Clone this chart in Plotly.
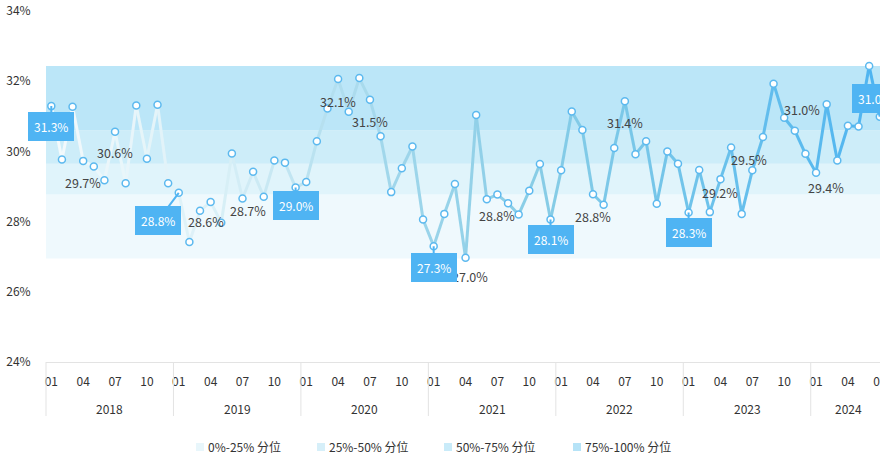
import plotly.graph_objects as go

# ---------------- data ----------------
years = [2018, 2019, 2020, 2021, 2022, 2023, 2024]
months = [f"{y}-{m:02d}" for y in years for m in range(1, 13)][:79]  # 2018-01 .. 2024-07

v2018 = [31.29, 29.77, 31.27, 29.73, 29.57, 29.18, 30.56, 29.09, 31.31, 29.79, 31.33, 29.09]
v2019 = [28.82, 27.42, 28.31, 28.56, 27.97, 29.94, 28.66, 29.42, 28.71, 29.74, 29.68, 28.97]
v2020 = [29.13, 30.29, 31.22, 32.06, 31.13, 32.09, 31.47, 30.43, 28.84, 29.52, 30.14, 28.06]
v2021 = [27.30, 28.22, 29.07, 26.97, 31.04, 28.64, 28.77, 28.52, 28.20, 28.88, 29.64, 28.06]
v2022 = [29.46, 31.14, 30.61, 28.78, 28.48, 30.10, 31.43, 29.92, 30.29, 28.51, 30.00, 29.65]
v2023 = [28.26, 29.47, 28.27, 29.21, 30.11, 28.22, 29.46, 30.41, 31.93, 30.96, 30.59, 29.93]
v2024 = [29.39, 31.34, 29.74, 30.73, 30.71, 32.43, 30.99]
values = v2018 + v2019 + v2020 + v2021 + v2022 + v2023 + v2024

# percentile bands (lower bound of 0% .. upper bound of 100%)
band_edges = [26.95, 28.77, 29.65, 30.60, 32.43]
band_names = ["0%-25% 分位", "25%-50% 分位", "50%-75% 分位", "75%-100% 分位"]

boxed_months = ["2018-01", "2019-01", "2019-12", "2021-01", "2021-12", "2023-01", "2024-07"]
plain_months = ["2018-04", "2018-07", "2019-04", "2019-07", "2020-04", "2020-07", "2021-04",
                "2021-07", "2022-04", "2022-07", "2023-04", "2023-07", "2023-10", "2024-01"]

month_ticks = ["01", "04", "07", "10"]
y_ticks = [24, 26, 28, 30, 32, 34]

# ---------------- styles ----------------
FONT = "Noto Sans CJK SC, Noto Sans, sans-serif"
band_colors = ["#eff9fd", "#e0f4fb", "#cdedf9", "#bbe6f8"]
legend_colors = ["#e8f6fb", "#d6eff9", "#c9ebf9", "#b6e3f7"]
box_color = "#4fb4f3"
marker_line = "#5cb9ef"

# label offsets (pixels): dx, dy(up positive)
plain_offsets = {
    "2018-04": (0, -22), "2018-07": (0, -21), "2019-04": (-5, -20), "2019-07": (5, -12),
    "2020-04": (0, -22), "2020-07": (0, -22), "2021-04": (4, -19), "2021-07": (0, -21),
    "2022-04": (0, -22), "2022-07": (0, -21), "2023-04": (0, -13), "2023-07": (-3, 11),
    "2023-10": (18, 8), "2024-01": (10, -15),
}
box_offsets = {
    "2018-01": (0, 20), "2019-01": (-21, 28), "2019-12": (0, 18), "2021-01": (0, 21),
    "2021-12": (0, 20), "2023-01": (0, 20), "2024-07": (-5, -18),
}

x = list(range(len(months)))
X0, X1 = -0.5, 78.02
PL, PR, PT, PB = 46, 880, 11, 362  # plot area in pixels


def px2x(px):
    return (px - PL) / (PR - PL)


def py2y(py):
    return (PB - py) / (PB - PT)


stops = [(0.0, (244, 250, 252)), (0.2, (218, 240, 247)), (0.4, (162, 215, 235)),
         (0.6, (134, 204, 230)), (0.8, (108, 194, 235)), (1.0, (78, 180, 240))]


def grad(t):
    for (t0, c0), (t1, c1) in zip(stops[:-1], stops[1:]):
        if t <= t1:
            f = (t - t0) / (t1 - t0)
            return "rgb({},{},{})".format(*[round(a + (b - a) * f) for a, b in zip(c0, c1)])
    return "rgb({},{},{})".format(*stops[-1][1])


fig = go.Figure()

n = len(values)
for i in range(n - 1):
    fig.add_trace(go.Scatter(
        x=[x[i], x[i + 1]], y=[values[i], values[i + 1]], mode="lines",
        line=dict(color=grad((i + 0.5) / (n - 1)), width=3),
        hoverinfo="skip", showlegend=False))

fig.add_trace(go.Scatter(
    x=x, y=values, mode="markers",
    marker=dict(size=7, color="white", line=dict(color=marker_line, width=1.5)),
    text=months, hovertemplate="%{text}: %{y:.1f}%<extra></extra>", showlegend=False))

shapes = []
for i in range(4):
    shapes.append(dict(type="rect", xref="paper", yref="y", x0=0, x1=1,
                       y0=band_edges[i], y1=band_edges[i + 1],
                       fillcolor=band_colors[i], line=dict(width=0), layer="below"))

# year separators
for k in range(len(years) + 1):
    sx = 12 * k - 0.5
    if sx > X1:
        break
    xp = (sx - X0) / (X1 - X0)
    shapes.append(dict(type="line", xref="paper", yref="paper", x0=xp, x1=xp,
                       y0=0, y1=py2y(416), line=dict(color="#e3e3e3", width=1)))

annotations = []
for yr_i, yr in enumerate(years):
    start = max(12 * yr_i - 0.5, X0)
    end = min(12 * yr_i + 11.5, X1)
    cx = (start + end) / 2 + 0.3 * (end < 12 * yr_i + 11.5)
    annotations.append(dict(x=cx, y=py2y(408), xref="x", yref="paper", text=str(yr),
                            yanchor="middle", showarrow=False,
                            font=dict(size=12, color="#333", family=FONT)))

for m in plain_months:
    i = months.index(m)
    dx, dy = plain_offsets[m]
    annotations.append(dict(x=x[i], y=values[i], text=f"{values[i]:.1f}%", showarrow=False,
                            xshift=dx, yshift=dy, font=dict(size=12.5, color="#444", family=FONT)))

for m in boxed_months:
    i = months.index(m)
    ax, ay = box_offsets[m]
    annotations.append(dict(x=x[i], y=values[i], text=f"{values[i]:.1f}%", showarrow=True,
                            arrowhead=0, arrowwidth=2, arrowcolor=box_color, ax=ax, ay=ay,
                            bgcolor=box_color, borderpad=5, bordercolor=box_color,
                            font=dict(size=12, color="white", family=FONT)))

# legend
leg_sq = [196, 317, 444, 573]
for i, name in enumerate(band_names):
    shapes.append(dict(type="rect", xref="paper", yref="paper",
                       x0=px2x(leg_sq[i]), x1=px2x(leg_sq[i] + 8),
                       y0=py2y(451), y1=py2y(443),
                       fillcolor=legend_colors[i], line=dict(width=0)))
    annotations.append(dict(x=px2x(leg_sq[i] + 10), y=py2y(447), xref="paper", yref="paper",
                            xanchor="left", yanchor="middle", text=name, showarrow=False,
                            font=dict(size=12, color="#333", family=FONT)))

tick_idx = [i for i, m in enumerate(months) if m[5:] in month_ticks]
fig.update_layout(
    width=880, height=457,
    margin=dict(l=PL, r=880 - PR, t=PT, b=457 - PB, autoexpand=False),
    paper_bgcolor="white", plot_bgcolor="white",
    showlegend=False,
    shapes=shapes, annotations=annotations,
    font=dict(family=FONT, size=12, color="#333"),
    xaxis=dict(range=[X0, X1], tickvals=tick_idx, ticktext=[months[i][5:] for i in tick_idx],
               showgrid=False, zeroline=False, showline=True, linecolor="#e3e3e3",
               ticks="outside", ticklen=9, tickcolor="rgba(0,0,0,0)",
               ticklabeloverflow="allow", automargin=False,
               tickfont=dict(size=12, color="#333", family=FONT), fixedrange=True),
    yaxis=dict(range=[24, 34], tickvals=y_ticks, ticktext=[f"{t}%" for t in y_ticks],
               showgrid=False, zeroline=False, showline=False, automargin=False,
               ticks="outside", ticklen=12, tickcolor="rgba(0,0,0,0)",
               tickfont=dict(size=12, color="#333", family=FONT), fixedrange=True),
)

fig.write_html("out.html", config={"displayModeBar": False},
               post_script="document.body.style.margin='0';document.body.style.overflow='hidden';")
